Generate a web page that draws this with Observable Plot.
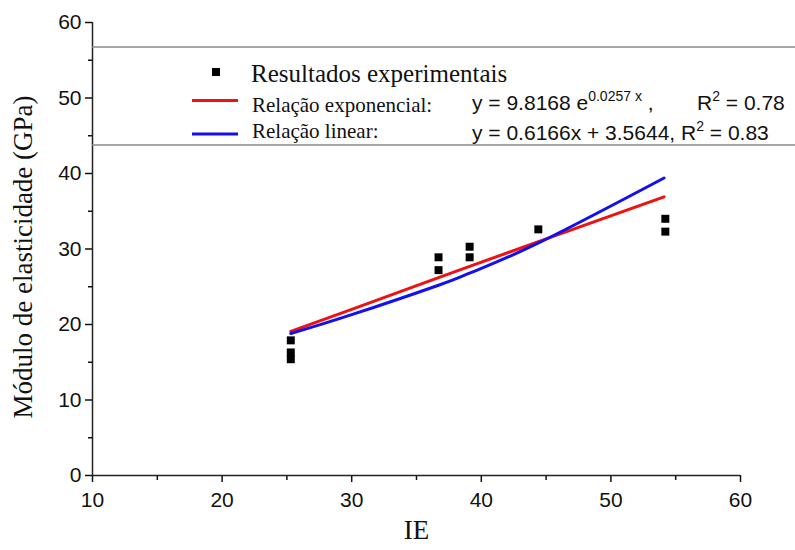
<!DOCTYPE html>
<html>
<head>
<meta charset="utf-8">
<script src="https://cdn.jsdelivr.net/npm/d3@7"></script>
<script src="https://cdn.jsdelivr.net/npm/@observablehq/plot@0.6"></script>
<style>
  body { margin: 0; background: #fff; }
  #wrap { position: relative; width: 795px; height: 550px; }
</style>
</head>
<body>
<div id="wrap"></div>
<script>
// Experimental results: IE vs elastic modulus (GPa)
const ieValues = [25.3, 25.3, 25.3, 36.7, 36.7, 39.1, 39.1, 44.4, 54.2, 54.2];
const modulusValues = [17.9, 16.3, 15.4, 28.9, 27.2, 30.3, 28.9, 32.6, 34.0, 32.3];

// Fitted curves as drawn
const redFitX = [25.3, 30, 36.7, 39.1, 44.3, 54.1];
const redFitY = [19.1, 22.0, 26.2, 27.7, 30.9, 36.9];
const blueFitX = [25.3, 30, 36.7, 39.1, 44.3, 54.1];
const blueFitY = [18.8, 21.3, 25.2, 26.8, 30.7, 39.4];

// Legend entries
const legendLabels = ["Resultados experimentais", "Relação exponencial:", "Relação linear:"];
const expEquation = { base: "y = 9.8168 e", exponent: "0.0257 x", tail: " ,", r2: "0.78" };
const linEquation = { text: "y = 0.6166x + 3.5644, R", r2: "0.83" };

// Axis ticks
const xMajor = [10, 20, 30, 40, 50, 60];
const xMinor = [15, 25, 35, 45, 55];
const yMajor = [0, 10, 20, 30, 40, 50, 60];
const yMinor = [5, 15, 25, 35, 45, 55];

const points = ieValues.map((x, i) => ({ x, y: modulusValues[i] }));
const redLine = redFitX.map((x, i) => ({ x, y: redFitY[i] }));
const blueLine = blueFitX.map((x, i) => ({ x, y: blueFitY[i] }));

const RED = "#f01010";
const BLUE = "#1010f0";
const sans = "Liberation Sans, Arial, sans-serif";
const serif = "Liberation Serif, Times New Roman, serif";

const chart = Plot.plot({
  width: 795,
  height: 550,
  marginLeft: 92,
  marginRight: 55,
  marginTop: 22,
  marginBottom: 75,
  style: { background: "#fff", color: "#111" },
  x: { domain: [10, 60] },
  y: { domain: [0, 60] },
  marks: [
    Plot.axisX(xMajor, { tickSize: 7, tickPadding: 10, fontSize: 21, fontFamily: sans, label: null, strokeWidth: 1.5 }),
    Plot.axisX(xMinor, { tickSize: 5, text: null, label: null, strokeWidth: 1.5 }),
    Plot.axisY(yMajor, { tickSize: 7, tickPadding: 4, fontSize: 21, fontFamily: sans, label: null, strokeWidth: 1.5 }),
    Plot.axisY(yMinor, { tickSize: 4, text: null, label: null, strokeWidth: 1.5 }),
    Plot.ruleY([0], { stroke: "#222", strokeWidth: 1.5 }),
    Plot.ruleX([10], { stroke: "#222", strokeWidth: 1.5 }),
    Plot.line(redLine, { x: "x", y: "y", stroke: RED, strokeWidth: 3 }),
    Plot.line(blueLine, { x: "x", y: "y", stroke: BLUE, strokeWidth: 3, curve: "natural" }),
    Plot.dot(points, { x: "x", y: "y", symbol: "square", r: 4.5, fill: "#000", stroke: "none" }),
    Plot.text(["Módulo de elasticidade (GPa)"], {
      frameAnchor: "left", textAnchor: "middle", rotate: -90, dx: -69, dy: 8,
      fontSize: 27, fontFamily: serif, fill: "#111"
    }),
    Plot.text(["IE"], {
      frameAnchor: "bottom", dy: 63, fontSize: 27, fontFamily: serif, fill: "#111"
    })
  ]
});

document.getElementById("wrap").appendChild(chart);

// Legend box drawn inside the chart's SVG, across the upper plot area
const svg = d3.select(chart);
const lg = svg.append("g").attr("class", "legend").attr("text-anchor", "start");
[47, 145].forEach(y => {
  lg.append("line").attr("x1", 92).attr("x2", 795).attr("y1", y).attr("y2", y)
    .attr("stroke", "#8a8a8a").attr("stroke-width", 1.5);
});
lg.append("rect").attr("x", 212).attr("y", 68).attr("width", 8).attr("height", 8).attr("fill", "#000");
lg.append("text").attr("x", 251).attr("y", 82).attr("font-family", serif).attr("font-size", 25)
  .attr("fill", "#111").text(legendLabels[0]);
lg.append("line").attr("x1", 192).attr("x2", 238).attr("y1", 100.5).attr("y2", 100.5)
  .attr("stroke", RED).attr("stroke-width", 3);
lg.append("text").attr("x", 252).attr("y", 112).attr("font-family", serif).attr("font-size", 21)
  .attr("fill", "#111").text(legendLabels[1]);
lg.append("line").attr("x1", 192).attr("x2", 238).attr("y1", 134).attr("y2", 134)
  .attr("stroke", BLUE).attr("stroke-width", 3);
lg.append("text").attr("x", 252).attr("y", 138).attr("font-family", serif).attr("font-size", 21)
  .attr("fill", "#111").text(legendLabels[2]);

const eq1 = lg.append("text").attr("x", 472).attr("y", 110).attr("font-family", sans)
  .attr("font-size", 21).attr("fill", "#111");
eq1.append("tspan").text(expEquation.base);
eq1.append("tspan").attr("dy", -9).attr("font-size", 14).text(expEquation.exponent);
eq1.append("tspan").attr("dy", 9).text(expEquation.tail);

const r1 = lg.append("text").attr("x", 697).attr("y", 110).attr("font-family", sans)
  .attr("font-size", 21).attr("fill", "#111");
r1.append("tspan").text("R");
r1.append("tspan").attr("dy", -9).attr("font-size", 14).text("2");
r1.append("tspan").attr("dy", 9).text(" = " + expEquation.r2);

const eq2 = lg.append("text").attr("x", 472).attr("y", 140).attr("font-family", sans)
  .attr("font-size", 21).attr("fill", "#111");
eq2.append("tspan").text(linEquation.text);
eq2.append("tspan").attr("dy", -9).attr("font-size", 14).text("2");
eq2.append("tspan").attr("dy", 9).text(" = " + linEquation.r2);
</script>
</body>
</html>
